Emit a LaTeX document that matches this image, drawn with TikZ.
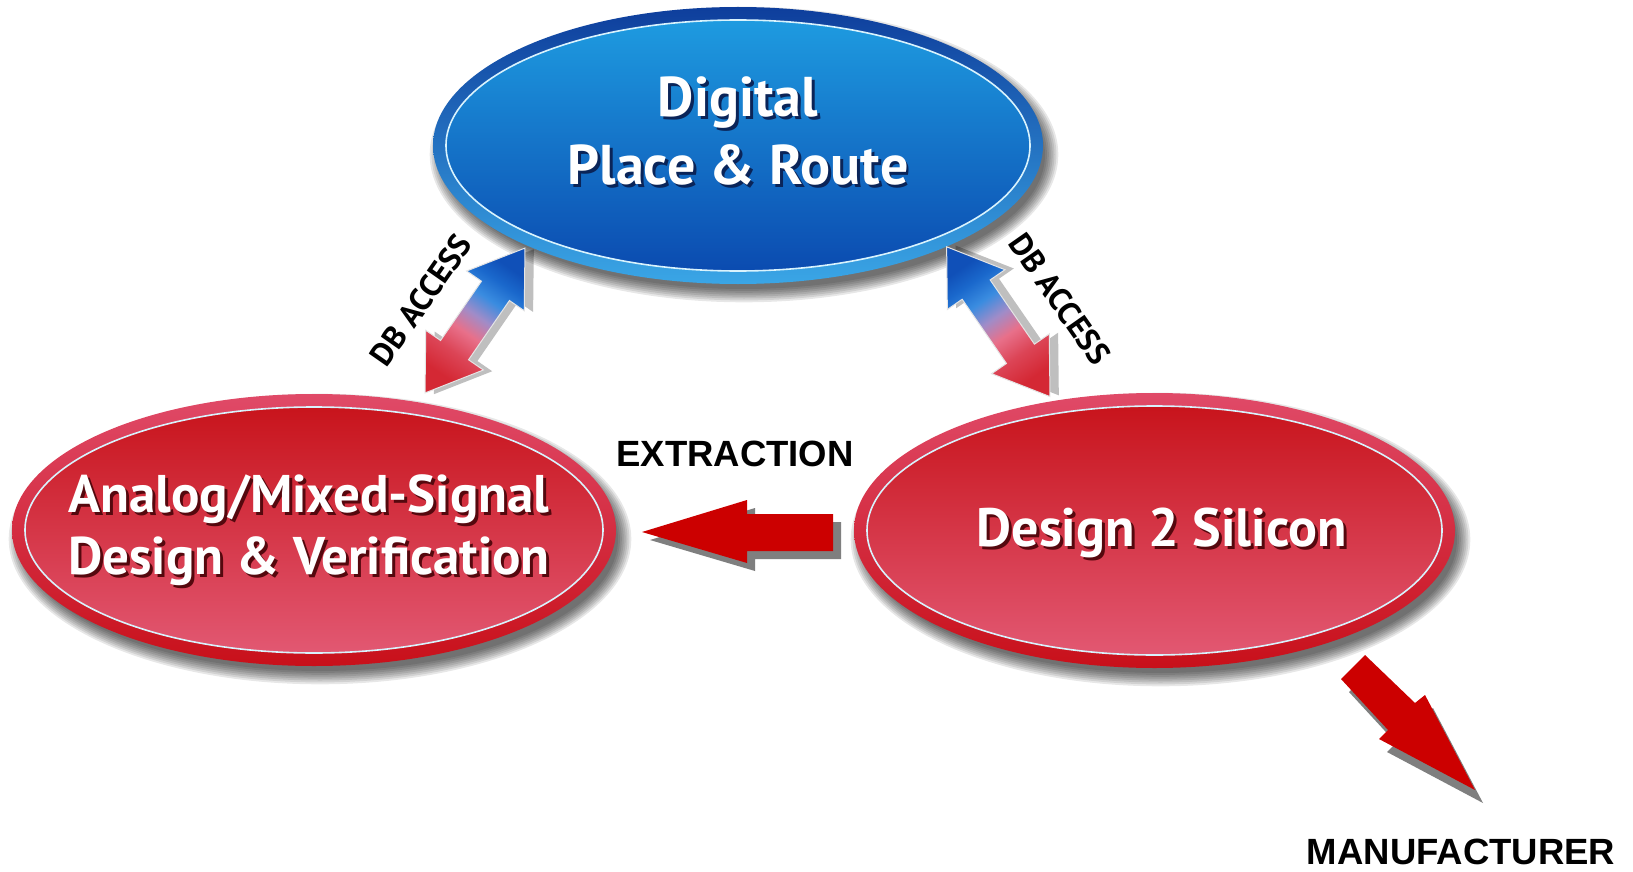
\documentclass[tikz,border=0pt]{standalone}
\usepackage{fontspec}
\newfontfamily\ptsans{PT Sans}
\newfontfamily\arialfont{Liberation Sans}
\usetikzlibrary{shapes.geometric}
\definecolor{bandBlueTop}{HTML}{0E3E9C}
\definecolor{bandBlueBot}{HTML}{3AA6E6}
\definecolor{fillBlueTop}{HTML}{1E9BE0}
\definecolor{fillBlueBot}{HTML}{0B4BB0}
\definecolor{bandRedTop}{HTML}{E04A68}
\definecolor{bandRedBot}{HTML}{C8101A}
\definecolor{fillRedTop}{HTML}{C8141C}
\definecolor{fillRedBot}{HTML}{E25872}
\definecolor{arrowRed}{HTML}{CC0000}
\definecolor{arrowShadow}{HTML}{7F7F7F}
\definecolor{dbBlue}{HTML}{1050B8}
\definecolor{dbBlueMid}{HTML}{1A68CC}
\definecolor{dbLight}{HTML}{3A8CE0}
\definecolor{dbLav}{HTML}{A08CC8}
\definecolor{dbPink}{HTML}{E8708A}
\definecolor{dbRed}{HTML}{D42834}
\definecolor{shBlue}{HTML}{0A2458}
\definecolor{shRed}{HTML}{55080E}
\pgfdeclareverticalshading{dbshade}{100bp}{color(0bp)=(dbRed); color(25bp)=(dbRed);
  color(35bp)=(dbRed!60!dbPink); color(44bp)=(dbPink); color(52bp)=(dbLav);
  color(60bp)=(dbLight); color(68bp)=(dbBlueMid); color(75bp)=(dbBlue); color(100bp)=(dbBlue)}
\newcommand\fancyell[7]{%
  \foreach \ii in {0,...,7}
    \fill[black,opacity=0.095] ([shift={(6,-9)}]#1.center)
      ellipse [x radius={#2pt-4pt+1.9pt*\ii}, y radius={#3pt-4pt+1.9pt*\ii}];
  \shade[top color=#4, bottom color=#5] (#1.center) ellipse [x radius=#2pt, y radius=#3pt];
  \shadedraw[top color=#6, bottom color=#7, draw=white!85!cyan, line width=1.6pt]
    (#1.center) ellipse [x radius={#2pt-13pt}, y radius={#3pt-13pt}];
}
% one line of white text with a dark drop shadow
\newcommand\shl[2]{\makebox[0pt][l]{\hspace{3pt}\raisebox{-3pt}{\color{#1}#2}}#2}
\newcommand\dbarrowpath[4]{% half length, head length, head half width, shaft half width
  (#1,0) -- ({#1-#2},#3) -- ({#1-#2},#4) -- ({-#1+#2},#4) -- ({-#1+#2},#3) -- (-#1,0)
  -- ({-#1+#2},-#3) -- ({-#1+#2},-#4) -- ({#1-#2},-#4) -- ({#1-#2},-#3) -- cycle}
\tikzset{
  holder/.style={ellipse, inner sep=0pt, outer sep=0pt, draw=none},
  whitetxt/.style={text=white, align=center, inner sep=0pt},
  dbfont/.style={font=\ptsans\bfseries\fontsize{32}{34}\selectfont, text=black, inner sep=0pt},
  lblfont/.style={font=\arialfont\bfseries\fontsize{36.5}{40}\selectfont, text=black, inner sep=0pt},
  blockarrow/.style={fill=arrowRed},
  blockshadow/.style={fill=arrowShadow},
  dbarrow/.style={draw=white!80!gray, line width=1pt, shading=dbshade},
}
\begin{document}
\begin{tikzpicture}[x=1pt,y=1pt]
\useasboundingbox (0,0) rectangle (1633,-872);
\fill[white] (0,0) rectangle (1633,-872);

% ellipse holders
\node[holder, minimum width=610pt, minimum height=277pt] (dpr) at (738,-145.5) {};
\node[holder, minimum width=604pt, minimum height=272pt] (ams) at (314,-530) {};
\node[holder, minimum width=601pt, minimum height=275pt] (d2s) at (1154.5,-530.5) {};

\fancyell{dpr}{305}{138.5}{bandBlueTop}{bandBlueBot}{fillBlueTop}{fillBlueBot}
\fancyell{ams}{302}{136}{bandRedTop}{bandRedBot}{fillRedTop}{fillRedBot}
\fancyell{d2s}{300.5}{137.5}{bandRedTop}{bandRedBot}{fillRedTop}{fillRedBot}

% ellipse texts
\node[whitetxt, font=\ptsans\bfseries\fontsize{56}{68}\selectfont] (dprt) at (738,-132.5)
  {\shl{shBlue}{Digital}\\\shl{shBlue}{Place \& Route}};
\node[whitetxt, font=\ptsans\bfseries\fontsize{53}{62}\selectfont] (amst) at (309,-532)
  {\shl{shRed}{Analog/Mixed-Signal}\\\shl{shRed}{Design \& Verification}};
\node[whitetxt, anchor=base, font=\ptsans\bfseries\fontsize{54}{60}\selectfont] (d2st) at (1162,-546)
  {\shl{shRed}{Design 2 Silicon}};

% DB ACCESS double arrows
\begin{scope}[shift={(475,-320.5)}, rotate=55.4]
  \fill[black, opacity=0.25, shift={(4,-8)}] \dbarrowpath{88}{52}{35}{17};
  \shadedraw[dbarrow, shading angle=-34.6] \dbarrowpath{88}{52}{35}{17};
\end{scope}
\begin{scope}[shift={(998.3,-321.7)}, rotate=124.6]
  \fill[black, opacity=0.25, shift={(-4,-8)}] \dbarrowpath{91}{52}{35}{17};
  \shadedraw[dbarrow, shading angle=34.6] \dbarrowpath{91}{52}{35}{17};
\end{scope}
\node[dbfont, rotate=55] (dbl) at (421,-300) {DB ACCESS};
\node[dbfont, rotate=-55] (dbr) at (1060,-299) {DB ACCESS};

% extraction arrow
\fill[blockshadow] (650,-540) -- (755,-508) -- (755,-522) -- (841,-522) -- (841,-559) -- (755,-559) -- (755,-571) -- cycle;
\fill[blockarrow] (642,-532) -- (747,-500) -- (747,-514) -- (833,-514) -- (833,-551) -- (747,-551) -- (747,-563) -- cycle;
\node[lblfont] (extr) at (735,-454) {EXTRACTION};

% manufacturer arrow
\fill[blockshadow] (1373,-668) -- (1423,-716) -- (1433,-708) -- (1483,-803) -- (1387,-752) -- (1396,-743) -- (1349,-692) -- cycle;
\fill[blockarrow] (1365,-655) -- (1415,-703) -- (1425,-695) -- (1475,-790) -- (1379,-739) -- (1388,-730) -- (1341,-679) -- cycle;
\node[lblfont] (manu) at (1461,-852) {MANUFACTURER};
\end{tikzpicture}
\end{document}
